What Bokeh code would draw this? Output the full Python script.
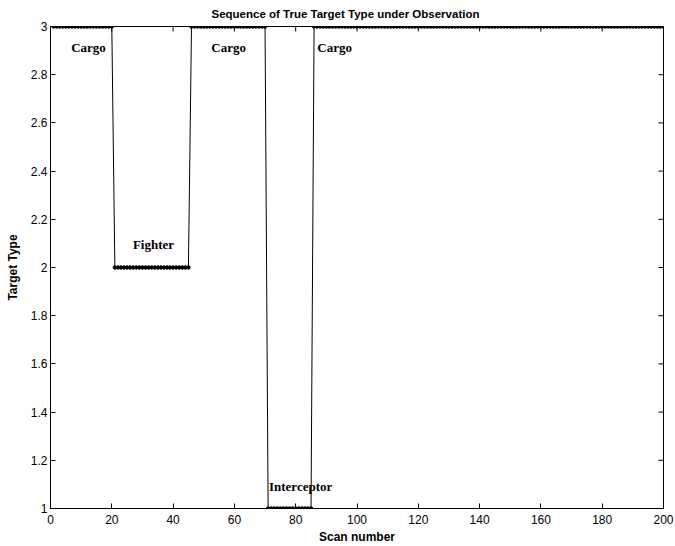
from bokeh.plotting import figure
from bokeh.models import FixedTicker, CustomJSTickFormatter, ColumnDataSource, Range1d
from bokeh.core.properties import value
from bokeh.embed import file_html
from bokeh.resources import INLINE

# Segments of true target type (scan ranges)
segment_start = [1, 21, 46, 71, 86]
segment_end = [20, 45, 70, 85, 200]
segment_type = [3, 2, 3, 1, 3]

label_text = ["Cargo", "Fighter", "Cargo", "Interceptor", "Cargo"]
label_x = [12.4, 33.6, 58.1, 81.6, 92.7]
label_y = [2.913, 2.097, 2.913, 1.091, 2.913]

x_ticks = [0, 20, 40, 60, 80, 100, 120, 140, 160, 180, 200]
y_ticks = [1, 1.2, 1.4, 1.6, 1.8, 2, 2.2, 2.4, 2.6, 2.8, 3]

scans, types = [], []
for s, e, t in zip(segment_start, segment_end, segment_type):
    for k in range(s, e + 1):
        scans.append(k)
        types.append(t)

X0, X1, Y0, Y1 = 0, 200, 1, 3
p = figure(width=675, height=546, output_backend="svg", toolbar_location=None,
           x_range=Range1d(X0, X1), y_range=Range1d(Y0, Y1),
           title="Sequence of True Target Type under Observation",
           min_border_left=50, min_border_right=12, min_border_top=26, min_border_bottom=37)
p.title.align = "left"
p.title.offset = 161
p.title.vertical_align = "top"
p.title.text_font = "Liberation Sans"
p.title.text_font_size = "11.5px"
p.title.text_font_style = "bold"
p.title.text_color = "black"
p.title.standoff = 10
p.grid.visible = False
p.outline_line_color = "black"
p.outline_line_alpha = 1
p.background_fill_color = "white"

src = ColumnDataSource(dict(x=scans, y=types))
p.line("x", "y", source=src, line_color="black", line_width=1)
p.scatter("x", "y", source=src, size=3.5, color="black")

p.text(x=label_x, y=label_y, text=label_text, text_font=value("Liberation Serif"),
       text_font_style="bold", text_font_size="13px", text_align="center",
       text_baseline="middle", text_color="black")

# tick marks on the top and right edges of the box
tick_len_x = (Y1 - Y0) * 5 / 483
tick_len_y = (X1 - X0) * 5 / 613
p.segment(x0=x_ticks, x1=x_ticks, y0=[Y1] * len(x_ticks), y1=[Y1 - tick_len_x] * len(x_ticks),
          line_color="black", line_width=1)
p.segment(x0=[X1] * len(y_ticks), x1=[X1 - tick_len_y] * len(y_ticks), y0=y_ticks, y1=y_ticks,
          line_color="black", line_width=1)

fmt = CustomJSTickFormatter(code="return String(Number(tick.toFixed(1)));")

def style(ax):
    ax.major_tick_in = 5
    ax.major_tick_out = 0
    ax.minor_tick_in = 0
    ax.minor_tick_out = 0
    ax.axis_line_color = "black"
    ax.major_tick_line_color = "black"
    ax.major_label_text_font = "Liberation Sans"
    ax.major_label_text_font_size = "12px"
    ax.major_label_text_color = "black"
    ax.axis_label_text_font = "Liberation Sans"
    ax.axis_label_text_font_size = "12px"
    ax.axis_label_text_font_style = "bold"
    ax.axis_label_text_color = "black"
    ax.axis_label_standoff = 1
    ax.major_label_standoff = 3

xa = p.xaxis[0]
xa.ticker = FixedTicker(ticks=x_ticks)
xa.formatter = fmt
xa.axis_label = "Scan number"
style(xa)
xa.major_label_standoff = 6
xa.axis_label_standoff = 3

ya = p.yaxis[0]
ya.ticker = FixedTicker(ticks=y_ticks)
ya.formatter = fmt
ya.axis_label = "Target Type"
style(ya)
ya.axis_label_standoff = 8

open("out.html", "w").write(file_html(p, INLINE))
